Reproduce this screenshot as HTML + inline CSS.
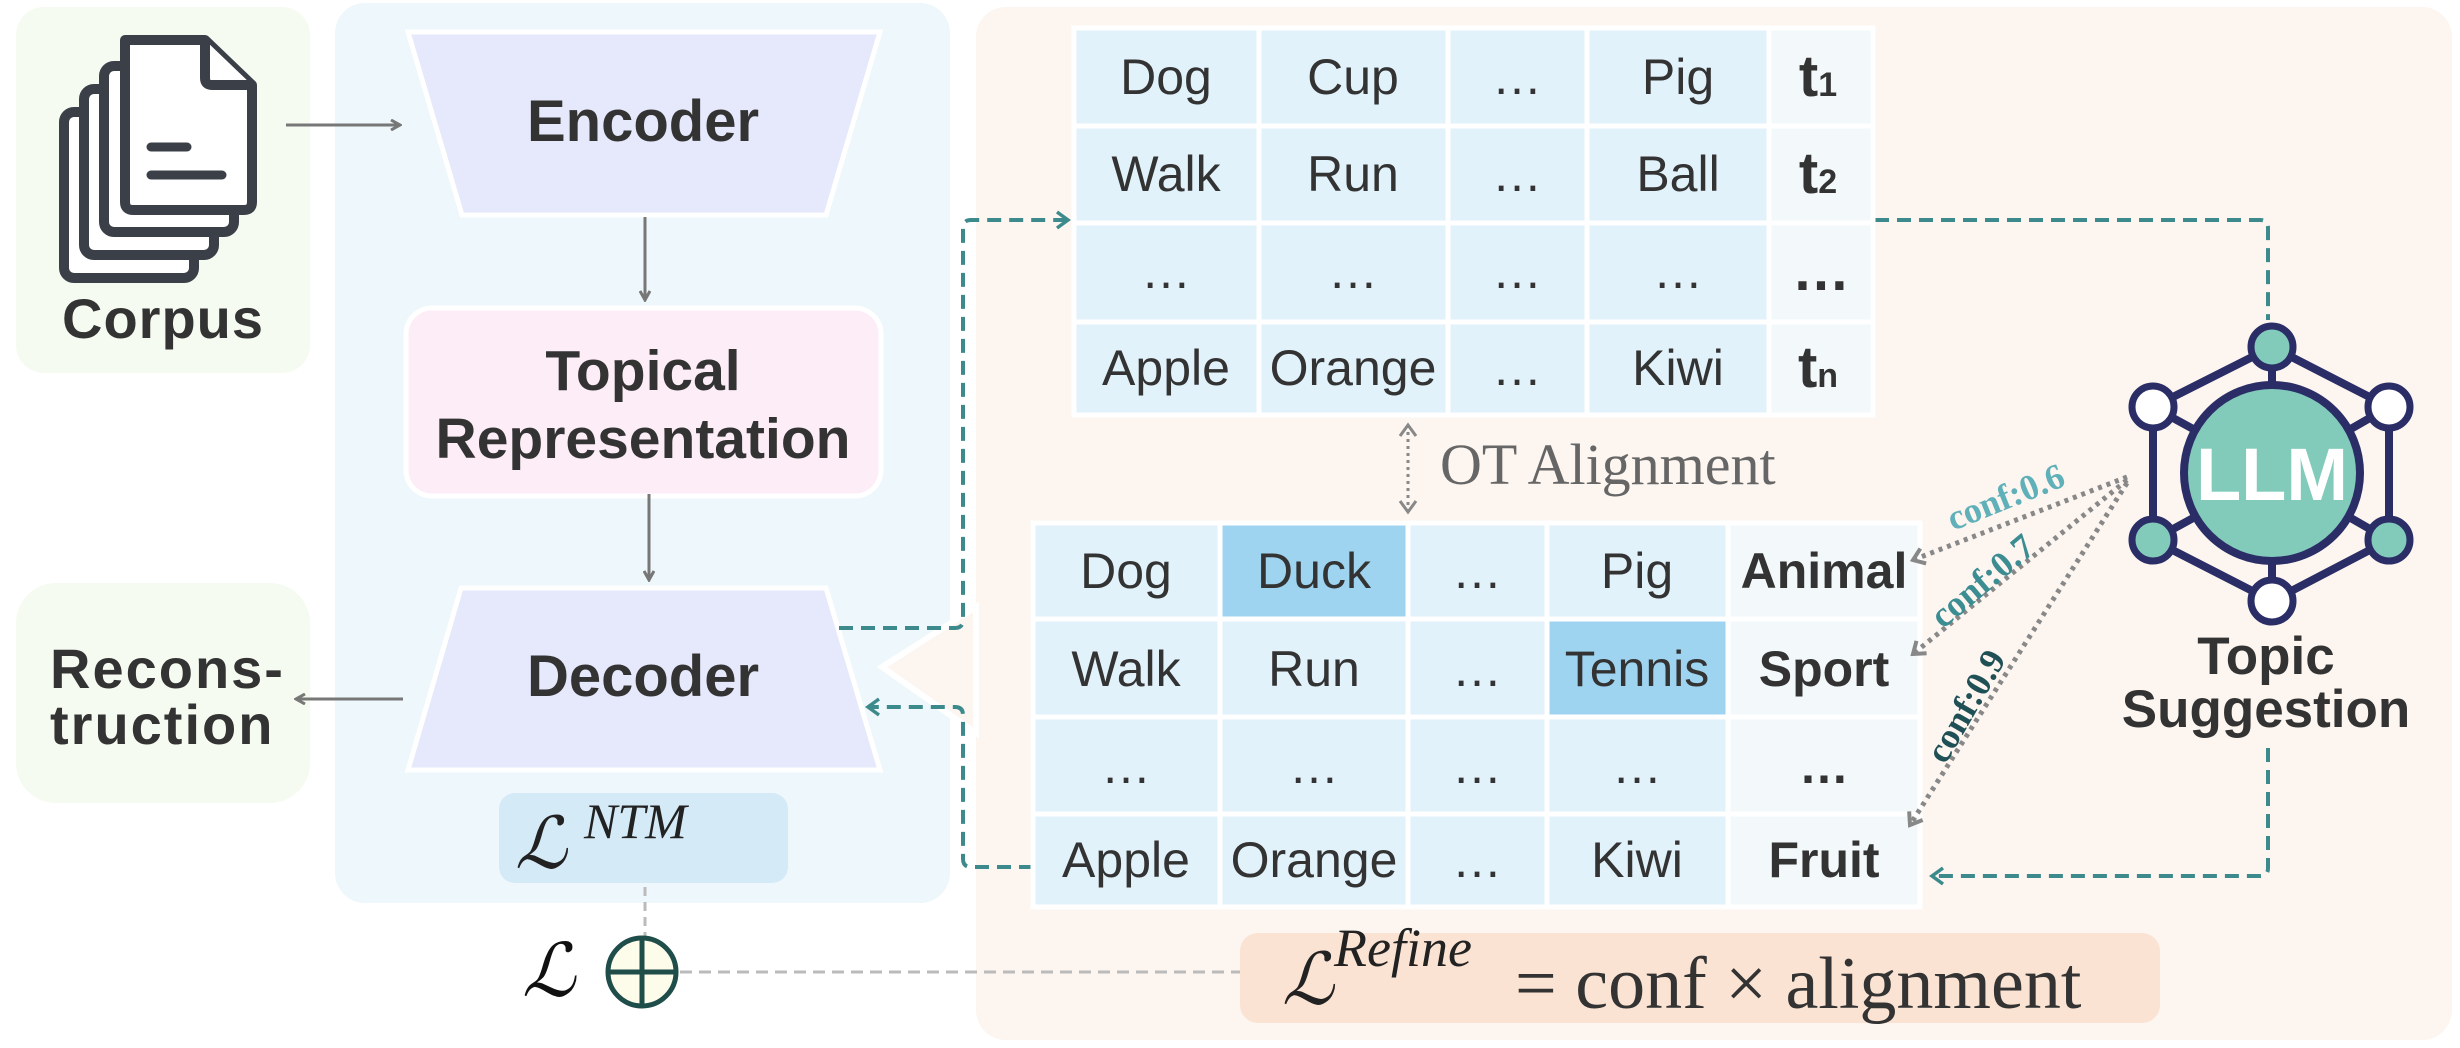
<!DOCTYPE html>
<html><head><meta charset="utf-8"><style>
html,body{margin:0;padding:0;background:#fff;}
svg{display:block;}
.b{font-family:"Liberation Sans",sans-serif;font-weight:bold;fill:#333;}
.r{font-family:"Liberation Sans",sans-serif;fill:#333;}
.s{font-family:"Liberation Serif",serif;}
</style></head><body>
<svg width="2460" height="1048" viewBox="0 0 2460 1048" xmlns="http://www.w3.org/2000/svg">
<defs>
<marker id="ag" markerWidth="12" markerHeight="12" refX="10" refY="6" orient="auto" markerUnits="userSpaceOnUse"><path d="M1,1 L10,6 L1,11" fill="none" stroke="#777" stroke-width="3"/></marker>
<marker id="at" markerWidth="16" markerHeight="20" refX="13" refY="10" orient="auto" markerUnits="userSpaceOnUse"><path d="M2,2 L13,10 L2,18" fill="none" stroke="#3d8a8c" stroke-width="3.5"/></marker>
<marker id="ad" markerWidth="16" markerHeight="20" refX="13" refY="10" orient="auto" markerUnits="userSpaceOnUse"><path d="M2,2 L13,10 L2,18" fill="none" stroke="#888" stroke-width="4"/></marker>
<marker id="ad2" markerWidth="16" markerHeight="20" refX="13" refY="10" orient="auto-start-reverse" markerUnits="userSpaceOnUse"><path d="M2,2 L13,10 L2,18" fill="none" stroke="#888" stroke-width="3"/></marker>
</defs>
<!-- panels -->
<rect x="16" y="7" width="294" height="366" rx="28" fill="#f5fbf0"/>
<rect x="16" y="583" width="294" height="220" rx="40" fill="#f5fbf0"/>
<rect x="335" y="3" width="615" height="900" rx="30" fill="#eef7fb"/>
<rect x="976" y="7" width="1476" height="1033" rx="30" fill="#fcf5f0"/>
<polygon points="976,607 882,667 976,733" fill="#fcf5f0" stroke="#fff" stroke-width="6"/>
<!-- corpus icon -->
<g fill="#fff" stroke="#3a3f48" stroke-width="10" stroke-linejoin="round">
<rect x="64" y="112" width="130" height="166" rx="10"/>
<rect x="84" y="89" width="130" height="166" rx="10"/>
<rect x="104" y="66" width="130" height="166" rx="10"/>
<path d="M125,40 L205,40 L252,85 L252,202 Q252,210 244,210 L133,210 Q125,210 125,202 Z"/>
<path d="M205,40 L205,78 Q205,85 212,85 L252,85"/>
</g>
<g stroke="#3a3f48" stroke-width="9" stroke-linecap="round"><line x1="151" y1="147" x2="187" y2="147"/><line x1="151" y1="175" x2="222" y2="175"/></g>
<text x="163" y="338" text-anchor="middle" class="b" font-size="56" letter-spacing="1">Corpus</text>
<line x1="286" y1="125" x2="400" y2="125" stroke="#777" stroke-width="3" marker-end="url(#ag)"/>
<!-- encoder -->
<polygon points="408,32 880,32 826,215 462,215" fill="#e6e8fb" stroke="#fff" stroke-width="5"/>
<text x="643" y="141" text-anchor="middle" class="b" font-size="58">Encoder</text>
<line x1="645" y1="217" x2="645" y2="300" stroke="#777" stroke-width="3" marker-end="url(#ag)"/>
<rect x="406" y="308" width="475" height="188" rx="26" fill="#fcedf7" stroke="#fff" stroke-width="5"/>
<text x="643" y="390" text-anchor="middle" class="b" font-size="57">Topical</text>
<text x="643" y="458" text-anchor="middle" class="b" font-size="57">Representation</text>
<line x1="649" y1="494" x2="649" y2="580" stroke="#777" stroke-width="3" marker-end="url(#ag)"/>
<polygon points="461,588 826,588 880,770 408,770" fill="#e6e8fb" stroke="#fff" stroke-width="5"/>
<text x="643" y="696" text-anchor="middle" class="b" font-size="58">Decoder</text>
<rect x="499" y="793" width="289" height="90" rx="16" fill="#d5eaf7"/>
<text x="515" y="868" class="s" font-size="72" font-style="italic" fill="#222">ℒ</text>
<text x="584" y="838" class="s" font-size="50" font-style="italic" fill="#222">NTM</text>
<!-- reconstruction -->
<text x="50" y="688" class="b" font-size="56" letter-spacing="2">Recons-</text>
<text x="50" y="744" class="b" font-size="56" letter-spacing="2">truction</text>
<line x1="403" y1="699" x2="296" y2="699" stroke="#777" stroke-width="3" marker-end="url(#ag)"/>
<!-- loss sum -->
<line x1="645" y1="887" x2="645" y2="937" stroke="#bbb" stroke-width="3" stroke-dasharray="9,6"/>
<line x1="680" y1="972" x2="1240" y2="972" stroke="#bbb" stroke-width="3" stroke-dasharray="12,7"/>
<text x="522" y="996" class="s" font-size="74" font-style="italic" fill="#111">ℒ</text>
<circle cx="642" cy="972" r="34" fill="#fdfbea" stroke="#1f4e4a" stroke-width="5"/>
<line x1="608" y1="972" x2="676" y2="972" stroke="#1f4e4a" stroke-width="5"/>
<line x1="642" y1="938" x2="642" y2="1006" stroke="#1f4e4a" stroke-width="5"/>
<!-- teal dashed connectors -->
<g fill="none" stroke="#3d8a8c" stroke-width="4" stroke-dasharray="14,8">
<path d="M839,628 L955,628 Q963,628 963,620 L963,228 Q963,220 971,220 L1068,220" marker-end="url(#at)"/>
<path d="M1033,867 L971,867 Q963,867 963,859 L963,715 Q963,707 955,707 L868,707" marker-end="url(#at)"/>
<path d="M1875,220 L2260,220 Q2268,220 2268,228 L2268,320"/>
<path d="M2268,748 L2268,868 Q2268,876 2260,876 L1932,876" marker-end="url(#at)"/>
</g>
<!-- top table -->
<g fill="#e1f2fb" stroke="#fff" stroke-width="5">
<rect x="1074" y="28" width="185" height="98"/><rect x="1259" y="28" width="189" height="98"/><rect x="1448" y="28" width="139" height="98"/><rect x="1587" y="28" width="182" height="98"/>
<rect x="1074" y="126" width="185" height="97"/><rect x="1259" y="126" width="189" height="97"/><rect x="1448" y="126" width="139" height="97"/><rect x="1587" y="126" width="182" height="97"/>
<rect x="1074" y="223" width="185" height="99"/><rect x="1259" y="223" width="189" height="99"/><rect x="1448" y="223" width="139" height="99"/><rect x="1587" y="223" width="182" height="99"/>
<rect x="1074" y="322" width="185" height="93"/><rect x="1259" y="322" width="189" height="93"/><rect x="1448" y="322" width="139" height="93"/><rect x="1587" y="322" width="182" height="93"/>
<g fill="#f3f8fb"><rect x="1769" y="28" width="104" height="98"/><rect x="1769" y="126" width="104" height="97"/><rect x="1769" y="223" width="104" height="99"/><rect x="1769" y="322" width="104" height="93"/></g>
</g>
<g class="r" font-size="50" text-anchor="middle">
<text x="1166" y="94">Dog</text><text x="1353" y="94">Cup</text><text x="1517" y="94">…</text><text x="1678" y="94">Pig</text>
<text x="1166" y="191">Walk</text><text x="1353" y="191">Run</text><text x="1517" y="191">…</text><text x="1678" y="191">Ball</text>
<text x="1166" y="288">…</text><text x="1353" y="288">…</text><text x="1517" y="288">…</text><text x="1678" y="288">…</text>
<text x="1166" y="385">Apple</text><text x="1353" y="385">Orange</text><text x="1517" y="385">…</text><text x="1678" y="385">Kiwi</text>
</g>
<g class="b" font-size="58" text-anchor="middle">
<text x="1818" y="96">t<tspan font-size="34">1</tspan></text>
<text x="1818" y="193">t<tspan font-size="34">2</tspan></text>
<text x="1821" y="290">…</text>
<text x="1818" y="387">t<tspan font-size="34">n</tspan></text>
</g>
<!-- OT -->
<line x1="1408" y1="425" x2="1408" y2="512" stroke="#888" stroke-width="3" stroke-dasharray="3,4" marker-start="url(#ad2)" marker-end="url(#ad2)"/>
<text x="1440" y="484" class="s" font-size="58" fill="#666">OT Alignment</text>
<!-- bottom table -->
<g fill="#e1f2fb" stroke="#fff" stroke-width="5">
<rect x="1033" y="523" width="187" height="96"/><rect x="1220" y="523" width="188" height="96" fill="#9fd4f0"/><rect x="1408" y="523" width="139" height="96"/><rect x="1547" y="523" width="181" height="96"/>
<rect x="1033" y="619" width="187" height="98"/><rect x="1220" y="619" width="188" height="98"/><rect x="1408" y="619" width="139" height="98"/><rect x="1547" y="619" width="181" height="98" fill="#9fd4f0"/>
<rect x="1033" y="717" width="187" height="97"/><rect x="1220" y="717" width="188" height="97"/><rect x="1408" y="717" width="139" height="97"/><rect x="1547" y="717" width="181" height="97"/>
<rect x="1033" y="814" width="187" height="93"/><rect x="1220" y="814" width="188" height="93"/><rect x="1408" y="814" width="139" height="93"/><rect x="1547" y="814" width="181" height="93"/>
<g fill="#f3f8fb"><rect x="1728" y="523" width="192" height="96"/><rect x="1728" y="619" width="192" height="98"/><rect x="1728" y="717" width="192" height="97"/><rect x="1728" y="814" width="192" height="93"/></g>
</g>
<g class="r" font-size="50" text-anchor="middle">
<text x="1126" y="588">Dog</text><text x="1314" y="588">Duck</text><text x="1477" y="588">…</text><text x="1637" y="588">Pig</text>
<text x="1126" y="686">Walk</text><text x="1314" y="686">Run</text><text x="1477" y="686">…</text><text x="1637" y="686">Tennis</text>
<text x="1126" y="783">…</text><text x="1314" y="783">…</text><text x="1477" y="783">…</text><text x="1637" y="783">…</text>
<text x="1126" y="877">Apple</text><text x="1314" y="877">Orange</text><text x="1477" y="877">…</text><text x="1637" y="877">Kiwi</text>
</g>
<g class="b" font-size="50" text-anchor="middle">
<text x="1824" y="588">Animal</text><text x="1824" y="686">Sport</text><text x="1824" y="783">…</text><text x="1824" y="877">Fruit</text>
</g>
<!-- conf arrows -->
<g stroke="#888" stroke-width="5" stroke-dasharray="4,5" fill="none">
<line x1="2127" y1="477" x2="1913" y2="560" marker-end="url(#ad)"/>
<line x1="2127" y1="480" x2="1913" y2="654" marker-end="url(#ad)"/>
<line x1="2127" y1="483" x2="1910" y2="825" marker-end="url(#ad)"/>
</g>
<g class="s" font-weight="bold" font-size="36" text-anchor="middle">
<text transform="translate(2010,508) rotate(-22)" fill="#5fb0b8">conf:0.6</text>
<text transform="translate(1990,590) rotate(-40)" fill="#3c8d92">conf:0.7</text>
<text transform="translate(1976,712) rotate(-60)" fill="#1f5055">conf:0.9</text>
</g>
<!-- LLM -->
<g stroke="#2a2d66" stroke-width="8" fill="none">
<polygon points="2272,347 2389,407 2389,540 2272,601 2153,540 2153,407"/>
<line x1="2272" y1="347" x2="2272" y2="385"/><line x1="2272" y1="561" x2="2272" y2="601"/>
<line x1="2153" y1="407" x2="2195" y2="430"/><line x1="2389" y1="407" x2="2349" y2="430"/>
<line x1="2153" y1="540" x2="2195" y2="517"/><line x1="2389" y1="540" x2="2349" y2="517"/>
</g>
<circle cx="2272" cy="473" r="88" fill="#82cbbb" stroke="#2a2d66" stroke-width="8"/>
<text x="2272" y="500" text-anchor="middle" font-family="Liberation Sans,sans-serif" font-weight="bold" font-size="74" fill="#fff">LLM</text>
<g stroke="#2a2d66" stroke-width="7">
<circle cx="2272" cy="347" r="21" fill="#82cbbb"/><circle cx="2153" cy="407" r="21" fill="#fff"/><circle cx="2389" cy="407" r="21" fill="#fff"/>
<circle cx="2153" cy="540" r="21" fill="#82cbbb"/><circle cx="2389" cy="540" r="21" fill="#82cbbb"/><circle cx="2272" cy="601" r="21" fill="#fff"/>
</g>
<text x="2266" y="674" text-anchor="middle" class="b" font-size="53">Topic</text>
<text x="2266" y="727" text-anchor="middle" class="b" font-size="53">Suggestion</text>
<!-- refine -->
<rect x="1240" y="933" width="920" height="90" rx="18" fill="#fbe3d3"/>
<text x="1282" y="1004" class="s" font-size="72" font-style="italic" fill="#222">ℒ</text>
<text x="1334" y="966" class="s" font-size="54" font-style="italic" fill="#222">Refine</text>
<text x="1515" y="1008" class="s" font-size="74" fill="#333">= conf × alignment</text>
</svg>
</body></html>
